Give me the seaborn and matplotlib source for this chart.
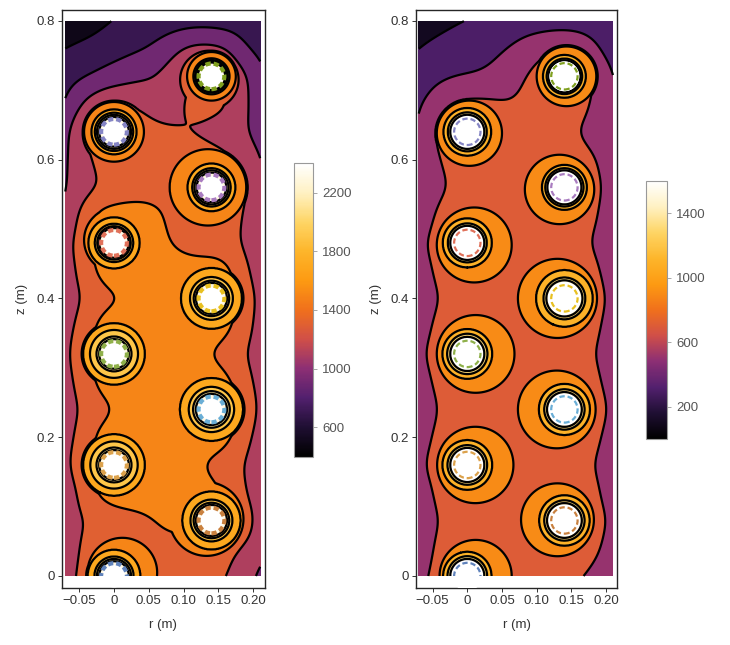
import numpy as np
import matplotlib
matplotlib.use('Agg')
import matplotlib.pyplot as plt
from matplotlib.cm import ScalarMappable
from matplotlib.colors import Normalize
from matplotlib.patches import Circle, Rectangle
import seaborn as sns

sns.set_style('ticks')
plt.rcParams['font.family'] = ['Liberation Sans', 'DejaVu Sans']

# sunset colours
bar_colors = ['#000000', '#1f0f33', '#52206e', '#8d2f74', '#d04f48', '#f0701c',
              '#fd9a12', '#fdb52a', '#fed565', '#fff1c2', '#ffffff']

# sample positions of the temperature tables
table_r = [-0.07, -0.05, -0.03, -0.01, 0.01, 0.03, 0.05, 0.07, 0.09, 0.11, 0.13, 0.15, 0.17, 0.19, 0.21]
table_z = [0.0, 0.04, 0.08, 0.12, 0.16, 0.20, 0.24, 0.28, 0.32, 0.36, 0.40,
           0.44, 0.48, 0.52, 0.56, 0.60, 0.64, 0.68, 0.72, 0.76, 0.80]

# temperature between the pins, estimated from the contour positions (rows go up in z)
left_temps = [
    [1120, 1220, 1340, 1380, 1380, 1380, 1360, 1340, 1320, 1300, 1270, 1230, 1180, 1100, 960],
    [1110, 1185, 1310, 1370, 1380, 1380, 1350, 1330, 1320, 1300, 1290, 1270, 1230, 1160, 1080],
    [1130, 1160, 1240, 1290, 1320, 1340, 1375, 1420, 1480, 1500, 1500, 1500, 1460, 1340, 1100],
    [1090, 1210, 1400, 1480, 1500, 1500, 1500, 1500, 1500, 1500, 1480, 1420, 1350, 1200, 1060],
    [1160, 1300, 1430, 1500, 1500, 1500, 1500, 1500, 1500, 1450, 1385, 1330, 1280, 1180, 1050],
    [1130, 1240, 1400, 1500, 1500, 1500, 1500, 1500, 1500, 1500, 1500, 1500, 1410, 1270, 1100],
    [1100, 1205, 1290, 1370, 1420, 1500, 1500, 1500, 1500, 1500, 1500, 1500, 1500, 1370, 1160],
    [1130, 1250, 1400, 1500, 1500, 1500, 1500, 1500, 1500, 1500, 1500, 1480, 1410, 1280, 1120],
    [1160, 1300, 1450, 1500, 1500, 1500, 1500, 1500, 1500, 1470, 1410, 1360, 1300, 1200, 1080],
    [1130, 1235, 1400, 1500, 1500, 1500, 1500, 1500, 1500, 1500, 1500, 1490, 1415, 1290, 1110],
    [1090, 1180, 1280, 1350, 1390, 1440, 1500, 1500, 1500, 1500, 1500, 1500, 1450, 1330, 1140],
    [1110, 1220, 1400, 1500, 1500, 1500, 1500, 1500, 1500, 1500, 1500, 1500, 1420, 1240, 1070],
    [1140, 1250, 1450, 1500, 1500, 1500, 1490, 1430, 1370, 1310, 1300, 1300, 1260, 1150, 1040],
    [1040, 1210, 1440, 1490, 1490, 1480, 1450, 1400, 1350, 1300, 1300, 1320, 1280, 1170, 1050],
    [990, 1080, 1160, 1240, 1290, 1320, 1340, 1350, 1400, 1400, 1400, 1400, 1340, 1225, 1060],
    [980, 1100, 1210, 1300, 1350, 1370, 1380, 1380, 1370, 1350, 1320, 1280, 1210, 1130, 1010],
    [950, 1170, 1300, 1360, 1360, 1320, 1280, 1240, 1210, 1170, 1150, 1100, 1090, 1015, 910],
    [820, 980, 1120, 1210, 1220, 1200, 1130, 1080, 1140, 1270, 1290, 1260, 1190, 1020, 880],
    [720, 770, 805, 860, 900, 950, 985, 1040, 1140, 1180, 1190, 1190, 1170, 1020, 870],
    [610, 650, 680, 710, 740, 770, 800, 880, 985, 1060, 1070, 1060, 985, 800, 740],
    [420, 460, 520, 590, 630, 660, 680, 680, 700, 720, 725, 710, 690, 660, 620],
]
right_temps = [
    [550, 630, 670, 720, 760, 760, 740, 720, 710, 690, 670, 640, 595, 550, 510],
    [520, 595, 670, 720, 750, 750, 730, 720, 710, 710, 710, 700, 670, 610, 540],
    [510, 570, 630, 690, 720, 725, 730, 740, 750, 750, 750, 740, 700, 640, 570],
    [520, 597, 680, 730, 740, 740, 730, 720, 730, 740, 730, 710, 680, 605, 530],
    [570, 640, 700, 750, 770, 760, 740, 710, 690, 680, 670, 660, 630, 580, 520],
    [530, 605, 680, 730, 740, 740, 730, 720, 730, 740, 740, 720, 680, 610, 540],
    [500, 570, 640, 700, 720, 720, 730, 745, 760, 770, 775, 760, 720, 650, 570],
    [530, 605, 680, 730, 740, 740, 730, 720, 730, 740, 740, 720, 680, 610, 540],
    [570, 640, 700, 750, 770, 760, 740, 710, 690, 680, 670, 660, 635, 585, 520],
    [530, 605, 680, 730, 740, 740, 730, 720, 730, 740, 740, 720, 680, 608, 540],
    [505, 570, 625, 700, 720, 725, 730, 745, 760, 770, 775, 760, 715, 635, 565],
    [525, 600, 680, 730, 740, 740, 730, 720, 730, 740, 740, 720, 680, 605, 530],
    [565, 635, 700, 750, 770, 760, 740, 710, 680, 670, 660, 650, 620, 565, 500],
    [500, 590, 680, 720, 730, 720, 710, 700, 700, 710, 710, 700, 670, 595, 510],
    [470, 530, 593, 650, 680, 700, 700, 710, 720, 730, 730, 730, 690, 625, 530],
    [480, 560, 630, 690, 720, 720, 710, 700, 690, 690, 690, 680, 650, 597, 500],
    [440, 600, 690, 740, 750, 730, 700, 680, 670, 660, 650, 620, 570, 520, 470],
    [380, 470, 610, 660, 660, 650, 620, 615, 660, 690, 700, 690, 630, 550, 450],
    [290, 340, 370, 395, 405, 430, 470, 550, 630, 680, 700, 700, 660, 585, 415],
    [200, 240, 270, 290, 310, 350, 385, 440, 520, 575, 630, 635, 550, 400, 290],
    [100, 130, 165, 195, 215, 230, 250, 270, 280, 290, 290, 285, 270, 250, 220],
]

# the ten pins
pin_r = [0.0, 0.14, 0.0, 0.14, 0.0, 0.14, 0.0, 0.14, 0.0, 0.14]
pin_z = [0.0, 0.08, 0.16, 0.24, 0.32, 0.40, 0.48, 0.56, 0.64, 0.72]
pin_colors = ['#5f82bb', '#c9813f', '#dca24c', '#6aaed6', '#8fb04a',
              '#e8c020', '#e0715a', '#a97cc0', '#8585c4', '#80a020']

# radius of the closed rings round each pin, one column per ring level
left_ring_levels = [1600, 1800, 2000, 2200]
left_rings = [
    [0.038, 0.028, 0.0245, 0.0215],
    [0.042, 0.030, 0.0255, 0.0225],
    [0.0445, 0.034, 0.025, 0.0215],
    [0.0455, 0.0325, 0.0263, 0.0225],
    [0.0445, 0.0345, 0.025, 0.0215],
    [0.044, 0.0307, 0.0254, 0.0225],
    [0.037, 0.0275, 0.024, 0.0215],
    [0.0345, 0.0275, 0.0245, 0.0215],
    [0.0325, 0.0275, 0.0245, 0.0215],
    [0.026, 0.0235, 0.0215, 0.020],
]
right_ring_levels = [1000, 1200, 1400, 1600]
right_rings = [
    [0.035, 0.0285, 0.0245, 0.0225],
    [0.0365, 0.029, 0.025, 0.0225],
    [0.036, 0.0285, 0.0245, 0.0225],
    [0.037, 0.029, 0.025, 0.0225],
    [0.036, 0.029, 0.0245, 0.0225],
    [0.041, 0.030, 0.026, 0.023],
    [0.0355, 0.028, 0.0245, 0.0225],
    [0.0325, 0.0275, 0.0245, 0.0225],
    [0.0345, 0.028, 0.0245, 0.0225],
    [0.031, 0.0255, 0.023, 0.0215],
]

# the wider rounded contours, they sit a bit off the pin centres
left_lobe_r = [0.012, 0.0, 0.133, 0.14, 0.0, 0.14, 0.004, 0.135, 0.0, 0.14, 0.002, 0.137]
left_lobe_z = [0.005, 0.16, 0.082, 0.24, 0.32, 0.40, 0.484, 0.56, 0.64, 0.72, 0.638, 0.715]
left_lobe_rad = [0.05, 0.046, 0.053, 0.046, 0.046, 0.0445, 0.047, 0.055, 0.043, 0.035, 0.047, 0.042]
left_lobe_level = [1400, 1400, 1400, 1400, 1400, 1400, 1400, 1400, 1400, 1400, 1200, 1200]

right_lobe_r = [0.012, 0.0115, 0.13, 0.129, 0.012, 0.13, 0.01, 0.133, 0.003, 0.143]
right_lobe_z = [0.0, 0.16, 0.081, 0.24, 0.32, 0.40, 0.477, 0.557, 0.638, 0.72]
right_lobe_rad = [0.052, 0.055, 0.0525, 0.056, 0.056, 0.057, 0.054, 0.05, 0.047, 0.043]
right_lobe_level = [800] * 10

left_levels = [400, 600, 800, 1000, 1200, 1400, 1600, 1800, 2000, 2200, 2400]
right_levels = [0, 200, 400, 600, 800, 1000, 1200, 1400, 1600]
left_bar_ticks = [600, 1000, 1400, 1800, 2200]
right_bar_ticks = [200, 600, 1000, 1400]
r_ticks = [-0.05, 0, 0.05, 0.10, 0.15, 0.20]
r_labels = ['\u22120.05', '0', '0.05', '0.10', '0.15', '0.20']
z_ticks = [0, 0.2, 0.4, 0.6, 0.8]
z_labels = ['0', '0.2', '0.4', '0.6', '0.8']

cmap = sns.blend_palette(bar_colors, as_cmap=True)
W, H = 730, 645


def blur(a, n=35, passes=3):
    kernel = np.ones(n) / n
    for axis in (0, 1):
        for _ in range(passes):
            pad = [(n // 2, n // 2) if i == axis else (0, 0) for i in range(2)]
            # odd reflection keeps the slope at the edge of the plot
            b = np.pad(a, pad, mode='reflect', reflect_type='odd')
            a = np.apply_along_axis(lambda v: np.convolve(v, kernel, mode='valid'), axis, b)
    return a


def build_field(temps, rings, ring_levels, lobe_r, lobe_z, lobe_rad, lobe_level, top):
    rr = np.arange(-0.07, 0.2101, 0.0007)
    zz = np.arange(0, 0.8001, 0.0007)
    temps = np.array(temps, dtype=float)
    # table onto the fine drawing grid
    t = np.array([np.interp(zz, table_z, temps[:, j]) for j in range(temps.shape[1])]).T
    t = np.array([np.interp(rr, table_r, row) for row in t])
    t = blur(t)
    R, Z = np.meshgrid(rr, zz)
    for a, b, rad, level in zip(lobe_r, lobe_z, lobe_rad, lobe_level):
        rho = np.hypot(R - a, Z - b)
        t = np.maximum(t, np.minimum(level + 100, level + (rad - rho) * 100000))
    for a, b, radii in zip(pin_r, pin_z, rings):
        rho = np.hypot(R - a, Z - b)
        xp = [0] + radii[::-1]
        fp = [top] + ring_levels[::-1]
        inner = np.interp(rho, xp, fp)
        inner = np.where(rho > radii[0], ring_levels[0] + (radii[0] - rho) * 100000, inner)
        t = np.maximum(t, inner)
    return rr, zz, t


def draw_panel(box, r0, scale, temps, rings, ring_levels, lobes, levels, hole, dash_rad, dash_lw):
    x0, x1 = box
    ax = fig.add_axes([x0 / W, (H - 588) / H, (x1 - x0) / W, 578.5 / H])
    rr, zz, t = build_field(temps, rings, ring_levels, *lobes, levels[-1] + 100)
    norm = Normalize(levels[0], levels[-1])
    ax.contourf(rr, zz, t, levels=levels, cmap=cmap, norm=norm, extend='max')
    ax.contour(rr, zz, t, levels=levels[1:-1], colors='k', linewidths=1.6)
    clip = Rectangle((-0.07, 0), 0.28, 0.8, transform=ax.transData)
    for a, b, c in zip(pin_r, pin_z, pin_colors):
        ax.add_patch(Circle((a, b), hole, fc='white', ec='none', zorder=3, clip_path=clip))
        dashed = Circle((a, b), dash_rad, fc='none', ec=c, lw=dash_lw,
                        ls=(0, (2.4 * 1.6 / dash_lw, 1.3 * 1.6 / dash_lw)), zorder=4)
        ax.add_patch(dashed)
        dashed.set_clip_path(clip)
    ax.set_xlim((x0 - r0) / scale, (x1 - r0) / scale)
    ax.set_ylim(-12 / 694, 566.5 / 694)
    ax.set_xticks(r_ticks, r_labels)
    ax.set_yticks(z_ticks, z_labels)
    ax.tick_params(length=3, width=0.7, labelsize=9.5, colors='#333333', pad=2)
    ax.set_xlabel('r (m)', fontsize=9.5, color='#333333', labelpad=9)
    ax.set_ylabel('z (m)', fontsize=9.5, color='#333333', labelpad=6)
    for s in ax.spines.values():
        s.set_linewidth(1.0)
    return norm


def draw_bar(box, norm, ticks):
    x0, x1, y0, y1 = box
    cax = fig.add_axes([x0 / W, (H - y1) / H, (x1 - x0) / W, (y1 - y0) / H])
    cb = fig.colorbar(ScalarMappable(norm=norm, cmap=cmap), cax=cax, ticks=ticks)
    cb.outline.set_edgecolor('#999999')
    cb.outline.set_linewidth(0.8)
    cax.tick_params(length=3, width=0.6, color='#999999', labelsize=9.5, labelcolor='#555555', pad=4)


fig = plt.figure(figsize=(W / 100, H / 100), dpi=100)

left_norm = draw_panel((61.7, 264.5), 114, 696, left_temps, left_rings, left_ring_levels,
                       (left_lobe_r, left_lobe_z, left_lobe_rad, left_lobe_level),
                       left_levels, 0.0165, 0.0185, 3.0)
right_norm = draw_panel((415.7, 617.3), 467.3, 693.6, right_temps, right_rings, right_ring_levels,
                        (right_lobe_r, right_lobe_z, right_lobe_rad, right_lobe_level),
                        right_levels, 0.0215, 0.019, 1.6)
draw_bar((293.5, 312.5, 163.3, 456.7), left_norm, left_bar_ticks)
draw_bar((646, 666.5, 181, 439), right_norm, right_bar_ticks)

fig.savefig('out.png', dpi=100)
